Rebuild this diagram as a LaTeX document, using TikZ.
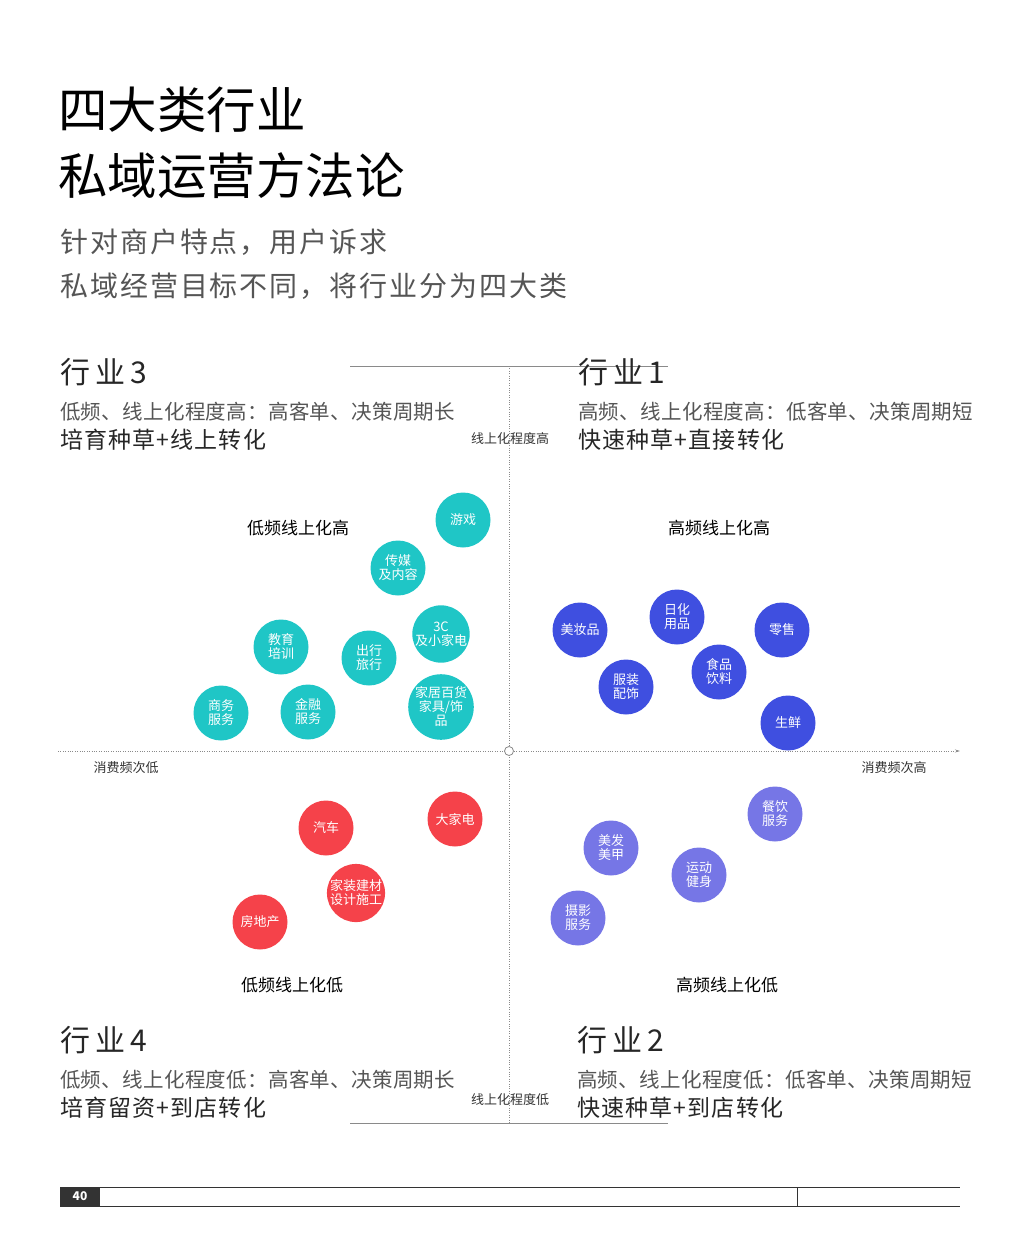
\documentclass[tikz,border=0pt]{standalone}
\usepackage{fontspec}
\setmainfont{Noto Sans CJK SC}
\usetikzlibrary{arrows.meta}
\definecolor{teal1}{HTML}{1FC6C6}
\definecolor{blue1}{HTML}{3F4FE0}
\definecolor{red1}{HTML}{F5424A}
\definecolor{purp1}{HTML}{7676E6}
\definecolor{gtxt}{HTML}{555555}
\definecolor{axisgray}{HTML}{8A8A8A}
\begin{document}
\begin{tikzpicture}[x=1pt,y=-1pt,
  fs/.style={font=\fontsize{#1}{#1}\selectfont},
  lbl/.style={anchor=west,inner sep=0pt},
  title/.style={lbl,font=\fontsize{49.5}{50}\selectfont,text=black},
  sub/.style={lbl,font=\fontsize{28}{28}\selectfont\addfontfeature{LetterSpace=7},text=gtxt},
  ind/.style={lbl,fs=30,text=black!85},
  desc/.style={lbl,font=\fontsize{20.5}{21}\selectfont\addfontfeature{LetterSpace=1.5},text=gtxt},
  strat/.style={lbl,font=\fontsize{23}{23}\selectfont\addfontfeature{LetterSpace=5},text=black!85},
  axlbl/.style={inner sep=0pt,fs=13,text=black!80},
  quad/.style={inner sep=0pt,fs=17,text=black},
  bub/.style={circle,minimum size=55pt,inner sep=0pt,text=white,align=center,font=\fontsize{13}{14}\selectfont},
  tb/.style={bub,fill=teal1},
  bb/.style={bub,fill=blue1},
  rb/.style={bub,fill=red1},
  pb/.style={bub,fill=purp1},
  dotax/.style={axisgray,line width=0.8pt,dash pattern=on 0.8pt off 1.6pt},
  solidln/.style={axisgray,line width=1pt}
]
\useasboundingbox (0,0) rectangle (1020,1257);
% title
\node[title] (t1) at (58,110) {四大类行业};
\node[title] (t2) at (58,176) {私域运营方法论};
\node[sub] (s1) at (60,242) {针对商户特点，用户诉求};
\node[sub] (s2) at (60,286) {私域经营目标不同，将行业分为四大类};
% axes
\coordinate (xl) at (58,751);
\coordinate (xr) at (960,751);
\coordinate (yt) at (509,366);
\coordinate (yb) at (509,1123);
\coordinate (tl) at (350,366);
\coordinate (tr) at (668,366);
\coordinate (bl) at (350,1123);
\coordinate (br) at (668,1123);
\draw[solidln] (tl) -- (tr);
\draw[solidln] (bl) -- (br);
\draw[dotax] (yt) -- (yb);
\draw[dotax,-{Stealth[length=5pt,width=3pt]}] (xl) -- (xr);
\node[circle,draw=axisgray,fill=white,line width=0.8pt,minimum size=9pt,inner sep=0pt] (org) at (509,751) {};
% axis labels
\node[axlbl] (yhi) at (510,439) {线上化程度高};
\node[axlbl] (ylo) at (510,1100) {线上化程度低};
\node[axlbl] (xlo) at (126,768) {消费频次低};
\node[axlbl] (xhi) at (894,768) {消费频次高};
% quadrant headers
\node[quad] (q3) at (298,528) {低频线上化高};
\node[quad] (q1) at (719,528) {高频线上化高};
\node[quad] (q4) at (292,985) {低频线上化低};
\node[quad] (q2) at (727,985) {高频线上化低};
% industry texts
\node[ind] (i3) at (60,372) {行\,业\,3};
\node[desc] (d3) at (60,412) {低频、线上化程度高：高客单、决策周期长};
\node[strat] (g3) at (60,440) {培育种草+线上转化};
\node[ind] (i1) at (578,372) {行\,业\,1};
\node[desc] (d1) at (578,412) {高频、线上化程度高：低客单、决策周期短};
\node[strat] (g1) at (578,440) {快速种草+直接转化};
\node[ind] (i4) at (60,1040) {行\,业\,4};
\node[desc] (d4) at (60,1080) {低频、线上化程度低：高客单、决策周期长};
\node[strat] (g4) at (60,1108) {培育留资+到店转化};
\node[ind] (i2) at (577,1040) {行\,业\,2};
\node[desc] (d2) at (577,1080) {高频、线上化程度低：低客单、决策周期短};
\node[strat] (g2) at (577,1108) {快速种草+到店转化};
% teal bubbles
\node[tb] (youxi) at (463,520) {游戏};
\node[tb] (chuanmei) at (398,568) {传媒\\及内容};
\node[tb] (sanc) at (441,634) {3C\\及小家电};
\node[tb] (jiaoyu) at (281,647) {教育\\培训};
\node[tb] (chuxing) at (369,658) {出行\\旅行};
\node[tb] (shangwu) at (221,713) {商务\\服务};
\node[tb] (jinrong) at (308,712) {金融\\服务};
\node[tb,minimum size=62pt] (jiaju) at (441,707) {家居百货\\家具/饰\\品};
% blue bubbles
\node[bb] (meizhuang) at (580,630) {美妆品};
\node[bb] (rihua) at (677,617) {日化\\用品};
\node[bb] (lingshou) at (782,630) {零售};
\node[bb] (fuzhuang) at (626,687) {服装\\配饰};
\node[bb] (shipin) at (719,672) {食品\\饮料};
\node[bb] (shengxian) at (788,723) {生鲜};
% red bubbles
\node[rb] (qiche) at (326,828) {汽车};
\node[rb] (dajiadian) at (455,819) {大家电};
\node[rb,minimum size=58pt] (jiazhuang) at (356,893) {家装建材\\设计施工};
\node[rb] (fangdichan) at (260,922) {房地产};
% purple bubbles
\node[pb] (canyin) at (775,814) {餐饮\\服务};
\node[pb] (meifa) at (611,848) {美发\\美甲};
\node[pb] (yundong) at (699,875) {运动\\健身};
\node[pb] (sheying) at (578,918) {摄影\\服务};
% footer
\coordinate (fl1) at (60,1187);
\coordinate (fr1) at (960,1187);
\coordinate (fl2) at (60,1206);
\coordinate (fr2) at (960,1206);
\coordinate (dv1) at (797,1187);
\coordinate (dv2) at (797,1206);
\draw[black!80,line width=1pt] (fl1) -- (fr1);
\draw[black!80,line width=1pt] (fl2) -- (fr2);
\draw[black!80,line width=1pt] (dv1) -- (dv2);
\node[fill=black!80,minimum width=40pt,minimum height=19pt,inner sep=0pt,text=white,font=\fontsize{12}{13}\selectfont\bfseries] (pg) at (80,1196.5) {40};
\end{tikzpicture}
\end{document}
